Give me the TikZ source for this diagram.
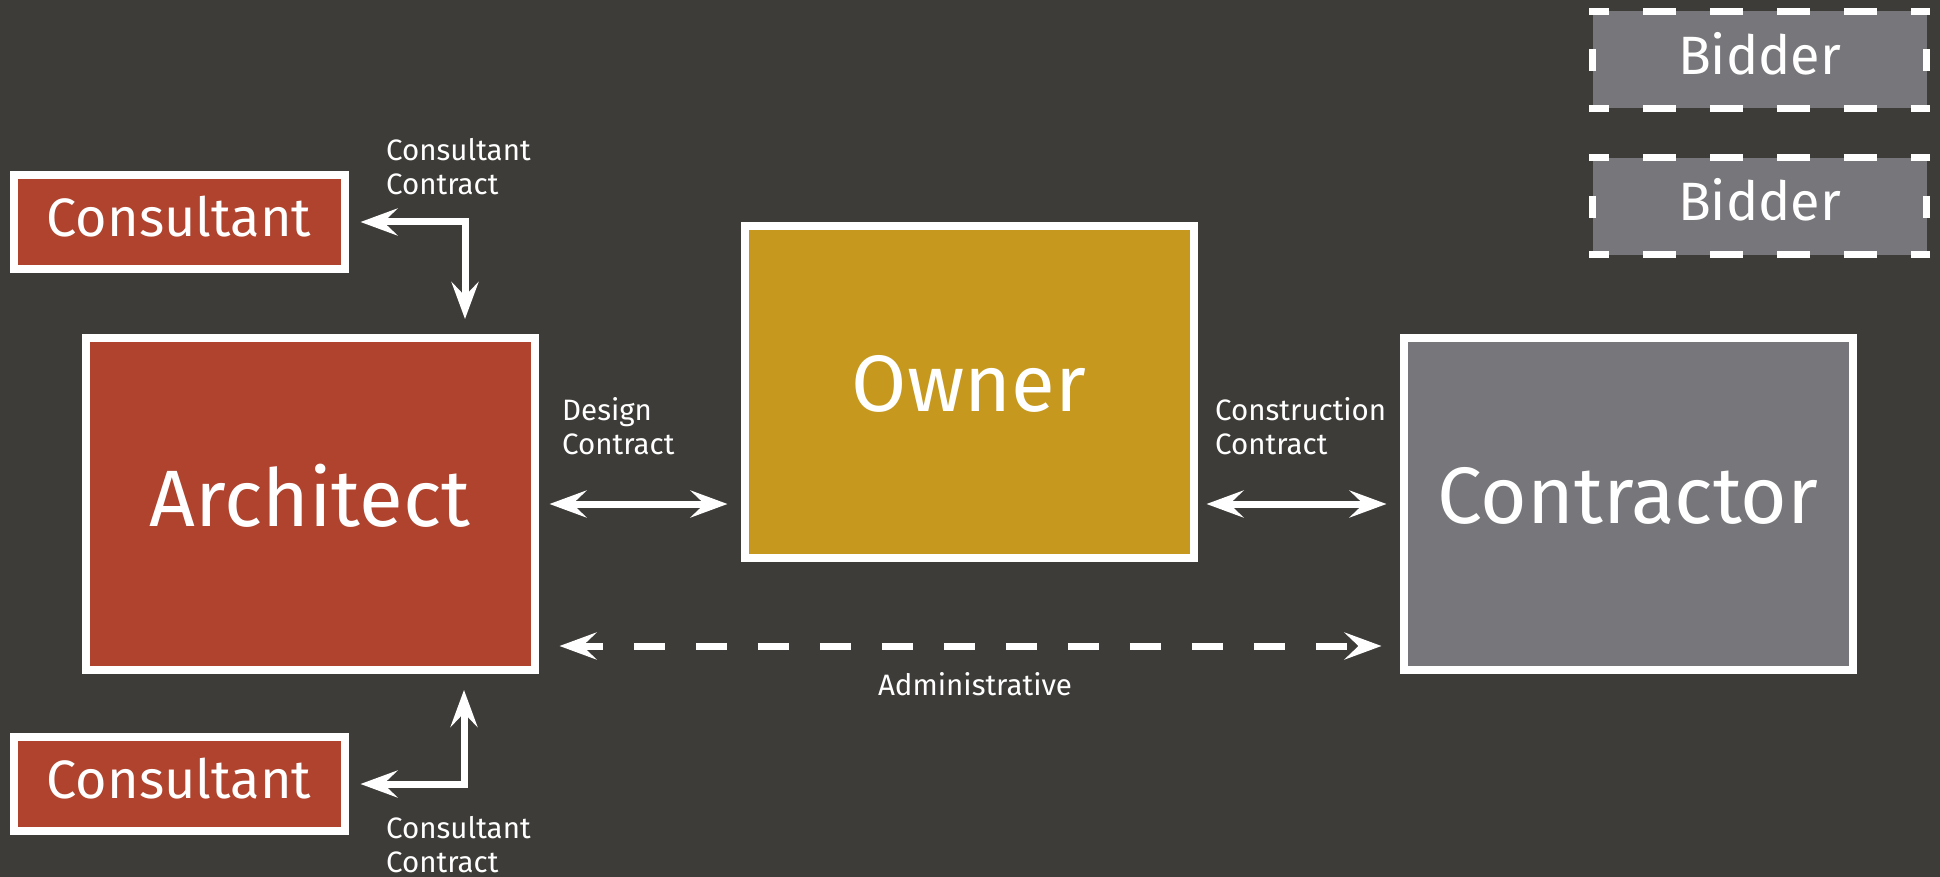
\documentclass[tikz,border=0pt]{standalone}
\usepackage{fontspec}
\setmainfont{Fira Sans}
\usetikzlibrary{arrows.meta}
\definecolor{slate}{RGB}{62,60,56}
\definecolor{brick}{RGB}{176,67,46}
\definecolor{mustard}{RGB}{198,153,30}
\definecolor{steel}{RGB}{119,119,123}

\begin{document}
\begin{tikzpicture}[x=1pt,y=-1pt,
    party/.style={draw=white,line width=8pt,text=white,inner sep=0pt,font=\fontsize{80}{96}\selectfont,text depth=18pt,minimum width=449pt,minimum height=332pt},
    sidebox/.style={draw=white,line width=8pt,text=white,fill=brick,inner sep=0pt,font=\fontsize{54}{64}\selectfont,text depth=12pt,minimum width=331pt,minimum height=94pt},
    bidbox/.style={text=white,fill=steel,inner sep=0pt,outer sep=0pt,font=\fontsize{54}{64}\selectfont,text depth=14pt,minimum width=334pt,minimum height=97pt},
    bidrow/.style={white,line width=7pt,dash pattern=on 33pt off 34pt,dash phase=13pt},
    bidcol/.style={white,line width=7pt,dash pattern=on 0pt off 38pt on 22pt off 50pt},
    note/.style={text=white,inner sep=0pt,anchor=west,align=left,font=\fontsize{29.5}{34}\selectfont},
    twoway/.style={white,line width=7pt,{Stealth[length=37pt,width=27pt,inset=14pt]}-{Stealth[length=37pt,width=27pt,inset=14pt]}}]
    \fill[slate] (0,0) rectangle (1940,877);
    \useasboundingbox (0,0) rectangle (1940,877);

    \node[party,fill=brick] (arch) at (310,504) {Architect};
    \node[party,fill=mustard] (owner) at (969,392) {Owner};
    \node[party,fill=steel] (contr) at (1628,504) {Contractor};
    \node[sidebox] (consA) at (179,222) {Consultant};
    \node[sidebox] (consB) at (179,784) {Consultant};
    \node[bidbox] (bidA) at (1759.5,60) {Bidder};
    \node[bidbox] (bidB) at (1759.5,206.5) {Bidder};

    % dashed frames of the bidders
    \draw[bidrow] ([xshift=-3.5pt]bidA.north west) -- ([xshift=3.5pt]bidA.north east);
    \draw[bidrow] ([xshift=-3.5pt]bidA.south west) -- ([xshift=3.5pt]bidA.south east);
    \draw[bidcol] (bidA.north west) -- (bidA.south west);
    \draw[bidcol] (bidA.north east) -- (bidA.south east);
    \draw[bidrow] ([xshift=-3.5pt]bidB.north west) -- ([xshift=3.5pt]bidB.north east);
    \draw[bidrow] ([xshift=-3.5pt]bidB.south west) -- ([xshift=3.5pt]bidB.south east);
    \draw[bidcol] (bidB.north west) -- (bidB.south west);
    \draw[bidcol] (bidB.north east) -- (bidB.south east);

    \node[note] (noteA) at (386,167) {Consultant\\Contract};
    \node[note] (noteB) at (386,845) {Consultant\\Contract};
    \node[note] (design) at (562,426) {Design\\Contract};
    \node[note] (build) at (1215,426) {Construction\\Contract};

    \draw[twoway,shorten <=12pt,shorten >=15pt] (consA.east) -| ([xshift=155pt]arch.north);
    \draw[twoway,shorten <=12pt,shorten >=16pt] (consB.east) -| ([xshift=154pt]arch.south);
    \draw[twoway,shorten <=11pt,shorten >=13pt] (arch.east) -- (arch.east -| owner.west);
    \draw[twoway,shorten <=9pt,shorten >=13pt] (contr.west -| owner.east) -- (contr.west);
    \draw[twoway,dash pattern=on 31pt off 31pt,dash phase=8pt,shorten <=21pt,shorten >=18pt] ([yshift=-142pt]arch.east) -- ([yshift=-142pt]contr.west)
        node[midway,yshift=-38pt,xshift=6pt,text=white,font=\fontsize{29.5}{34}\selectfont] (admin) {Administrative};
\end{tikzpicture}
\end{document}
